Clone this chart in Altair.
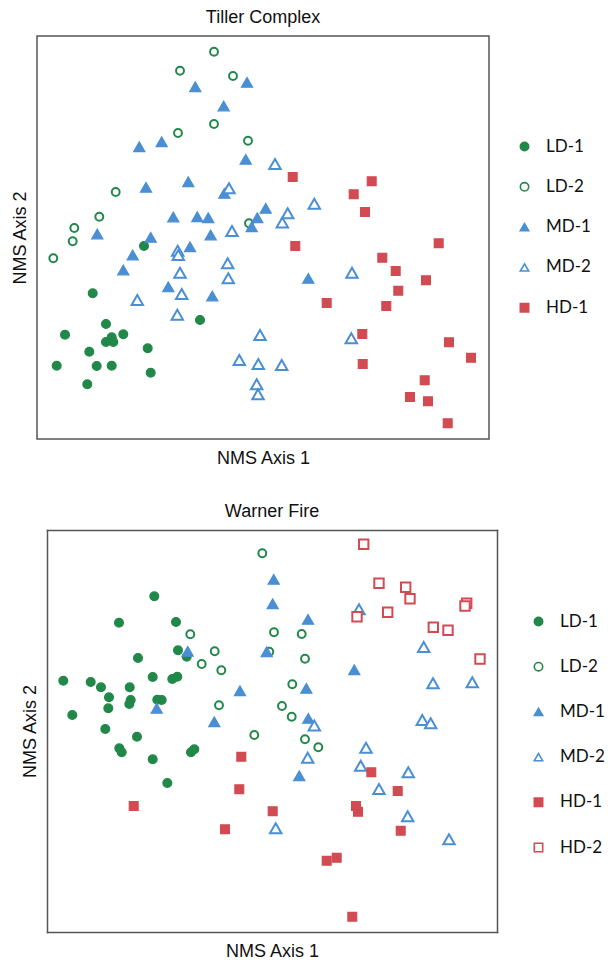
import altair as alt
import pandas as pd

# ---------------- Tiller Complex (NMS scores, arbitrary units) ----------------
tc_groups = ["LD-1", "LD-2", "MD-1", "MD-2", "HD-1"]

tc_ld1_x = [107, 55.7, 69, 28, 86.3, 74.7, 69, 76.3, 110.7, 52.3, 19.7, 59.7, 74.7, 113.7, 50.3, 163]
tc_ld1_y = [193, 145.7, 115, 104.3, 104.7, 101.7, 97, 97, 90.7, 87.3, 73.3, 73, 73.3, 66.3, 54.7, 119]

tc_ld2_x = [177, 143, 196, 177, 141, 211, 78.7, 62.3, 37.3, 35.7, 16.3, 212]
tc_ld2_y = [387.3, 368.3, 363, 315, 306, 298.3, 247, 222.3, 211, 197.7, 180.7, 215.7]

tc_md1_x = [158.3, 210, 186.7, 102.3, 124.7, 208.7, 109, 151.3, 187.3, 136.3, 160.3, 171.3,
            228.7, 220.3, 214.7, 60.3, 113.7, 95.7, 86.3, 173.7, 153, 131.3, 175.3, 271.3]
tc_md1_y = [352.3, 356.7, 333, 292.3, 297.3, 279.7, 251.7, 257.3, 245.7, 222, 222.3, 221.3,
            230.7, 221.3, 212.3, 205, 201.7, 184, 169, 204, 192.3, 152.3, 143, 160.7]

tc_md2_x = [238, 192, 277.3, 250.7, 245.3, 195, 140.7, 141.3, 143, 190.7, 191.3, 144.7,
            100.3, 140.3, 223, 202.3, 221.3, 219.7, 221, 315, 314.3, 244.7]
tc_md2_y = [275, 250.7, 235.3, 225.7, 216.5, 208, 188.3, 184, 166.3, 175.7, 160.7, 145,
            139, 124.3, 104, 79, 75, 54.7, 44.7, 166.3, 100.7, 74]

tc_hd1_x = [255.7, 334.7, 316.7, 328, 258.3, 401.7, 345.3, 358.7, 389, 361.3, 289.7, 349.3,
            325.3, 412, 434, 325.7, 387.7, 373, 391, 410.7]
tc_hd1_y = [262, 257.7, 244.7, 227, 193, 195.7, 181.3, 168, 158.7, 148.3, 136, 133,
            105, 96.7, 81.3, 75, 58.7, 42, 37.7, 15.7]

# ---------------- Warner Fire ----------------
wf_groups = ["LD-1", "LD-2", "MD-1", "MD-2", "HD-1", "HD-2"]

wf_ld1_x = [107.3, 72, 129, 131, 139.7, 91, 16.3, 43.7, 54, 82.7, 105.7, 125.3, 130.3, 62,
            83.7, 82.3, 110.3, 114.7, 61.3, 25.3, 58.3, 90, 72.3, 74.7, 105.7, 144, 147.3, 120.3]
wf_ld1_y = [335.7, 309.3, 310, 281.7, 275.3, 274, 251.3, 250, 244.7, 244.7, 255, 253, 255.3, 234.7,
            232, 228, 232.3, 232, 223.7, 217, 203, 195.3, 183.7, 179.7, 172.7, 179.7, 182.7, 149]

wf_ld2_x = [215.3, 143.3, 167.7, 154.7, 174.3, 172, 227, 254.7, 222.3, 258, 245.3, 235,
            244.7, 207.3, 258, 271.3]
wf_ld2_y = [378.7, 297.7, 280.7, 268, 261.7, 226.7, 299.7, 298, 280.3, 273.3, 247.7, 226,
            215.3, 197, 192.7, 184.7]

wf_md1_x = [140.7, 109.7, 193, 167.3, 226.7, 225.7, 261, 219.7, 307.3, 259.3, 261.3, 252.3]
wf_md1_y = [280.7, 223.7, 241.3, 210.3, 352.7, 328.3, 312.7, 280.3, 262.3, 243.7, 213.7, 156.3]

wf_md2_x = [312, 376.7, 386, 425.3, 375.3, 383.7, 267.3, 260.7, 319, 313.7, 361.3, 332,
            360.7, 228.7, 402]
wf_md2_y = [322.7, 285, 248.7, 249.7, 212, 208.7, 206.5, 174.3, 184.3, 166.3, 159.7, 143,
            115.7, 103.7, 92.7]

wf_hd1_x = [194.3, 192.3, 86.7, 178, 225.7, 324.3, 350.7, 309, 311, 353.7, 279.7, 289.7, 305.3]
wf_hd1_y = [175.3, 142.7, 126, 102.7, 120.7, 159.7, 141, 126, 120.3, 101.3, 71.3, 74.3, 15.3]

wf_hd2_x = [316.7, 332, 358.7, 363, 340.7, 310, 386.3, 401, 419.7, 418, 433]
wf_hd2_y = [387.7, 348.7, 344.7, 333.3, 319.7, 315.3, 304.7, 301.7, 328.7, 326, 273]

GREEN = "#22884a"
BLUE = "#4a8fd4"
RED = "#d24b52"
FRAME = "#555555"
TXT = "#111111"

# shape, stroke, fill, size, strokeWidth
STYLE = {
    "LD-1": ("circle", GREEN, GREEN, 78, 1.2),
    "LD-2": ("circle", GREEN, "white", 62, 2.0),
    "MD-1": ("triangle-up", BLUE, BLUE, 125, 1.2),
    "MD-2": ("triangle-up", BLUE, "white", 130, 2.0),
    "HD-1": ("square", RED, RED, 78, 1.2),
    "HD-2": ("square", RED, "white", 88, 2.0),
}


def frame(groups, xs, ys):
    rows = []
    for g, gx, gy in zip(groups, xs, ys):
        for a, b in zip(gx, gy):
            rows.append({"group": g, "nms1": a, "nms2": b})
    return pd.DataFrame(rows)


def title_axis(title, orient, offset=0, domain=False):
    kw = dict(labels=False, ticks=False, grid=False, orient=orient, offset=offset,
              domain=domain, domainColor=FRAME, domainWidth=1.5, domainCap="square")
    if title:
        kw.update(title=title, titleFont="Liberation Sans", titleFontSize=18,
                  titleFontWeight="normal", titleColor=TXT,
                  titlePadding=10 if orient == "bottom" else 8)
    else:
        kw.update(title=None)
    return alt.Axis(**kw)


def panel(df, groups, title, W, H, leg, inset=0, title_dx=0):
    """inset > 0: frame drawn by axis domains, data rectangle moved right by inset."""
    shapes = [STYLE[g][0] for g in groups]
    strokes = [STYLE[g][1] for g in groups]
    fills = [STYLE[g][2] for g in groups]
    xscale = alt.Scale(domain=[0, W], nice=False, zero=False, range=[inset, inset + W])
    yscale = alt.Scale(domain=[0, H], nice=False, zero=False)
    framed = inset > 0
    layers = []
    for i, g in enumerate(groups):
        _, _, _, sz, sw = STYLE[g]
        if not framed or i == 0:
            xa = title_axis("NMS Axis 1", "bottom", 0, framed)
            ya = title_axis("NMS Axis 2", "left", -inset, framed)
        elif i == 1:
            xa = title_axis(None, "top", 0, True)
            ya = title_axis(None, "right", 0, True)
        else:
            xa = None
            ya = None
        layers.append(
            alt.Chart(df).transform_filter(alt.datum.group == g)
            .mark_point(opacity=1, size=sz, strokeWidth=sw)
            .encode(
                x=alt.X("nms1:Q", scale=xscale, axis=xa),
                y=alt.Y("nms2:Q", scale=yscale, axis=ya),
                shape=alt.Shape("group:N", scale=alt.Scale(domain=groups, range=shapes), legend=leg),
                stroke=alt.Stroke("group:N", scale=alt.Scale(domain=groups, range=strokes), legend=leg),
                fill=alt.Fill("group:N", scale=alt.Scale(domain=groups, range=fills), legend=leg),
            )
        )
    ch = alt.layer(*layers, title=alt.TitleParams(
        title, font="Liberation Sans", fontSize=18, fontWeight="normal",
        color=TXT, offset=9, dx=title_dx)).properties(width=W + inset, height=H)
    if framed:
        ch = ch.resolve_axis(x="independent", y="independent").properties(
            view=alt.ViewBackground(strokeOpacity=0))
    return ch


tc_df = frame(tc_groups,
              [tc_ld1_x, tc_ld2_x, tc_md1_x, tc_md2_x, tc_hd1_x],
              [tc_ld1_y, tc_ld2_y, tc_md1_y, tc_md2_y, tc_hd1_y])
wf_df = frame(wf_groups,
              [wf_ld1_x, wf_ld2_x, wf_md1_x, wf_md2_x, wf_hd1_x, wf_hd2_x],
              [wf_ld1_y, wf_ld2_y, wf_md1_y, wf_md2_y, wf_hd1_y, wf_hd2_y])

leg_common = dict(orient="none", title=None, symbolSize=70, symbolStrokeWidth=1.6,
                  labelFont="Lato", labelFontSize=17, labelColor=TXT, labelOffset=13)
leg_top = alt.Legend(legendX=479, legendY=102, rowPadding=22.3, **leg_common)
leg_bot = alt.Legend(legendX=493, legendY=83, rowPadding=27.2, **leg_common)

top = panel(tc_df, tc_groups, "Tiller Complex", 452, 403, leg_top)
bottom = panel(wf_df, wf_groups, "Warner Fire", 450, 402, leg_bot, inset=10, title_dx=5)

chart = alt.vconcat(top, bottom, spacing=35).resolve_scale(
    shape="independent", stroke="independent", fill="independent",
    x="independent", y="independent",
).configure_view(stroke=FRAME, strokeWidth=1.5).properties(
    padding={"left": 10, "top": 8, "right": 0, "bottom": 0}
)

chart.save("out.html", embed_options={"renderer": "svg", "actions": False})
